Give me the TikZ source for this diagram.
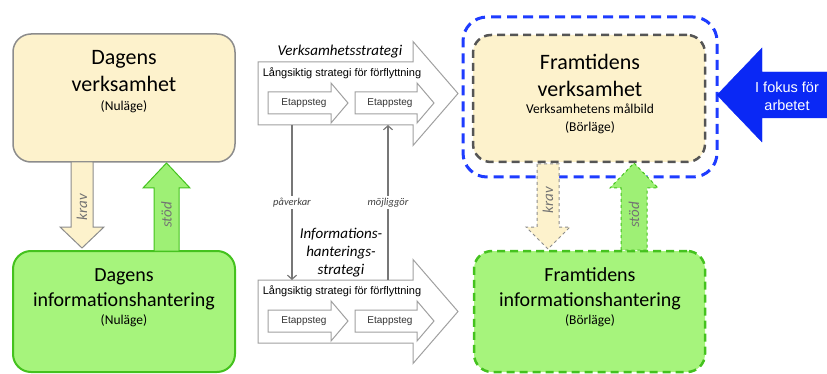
\documentclass[tikz,border=0pt]{standalone}
\usepackage{fontspec}
\setmainfont{Carlito}
\newfontfamily\arialfont{Liberation Sans}
\usetikzlibrary{arrows.meta}

\definecolor{paleyellow}{HTML}{FDF2CC}
\definecolor{boxgray}{HTML}{8C8C8C}
\definecolor{dashgray}{HTML}{555555}
\definecolor{boxgreen}{HTML}{A6F47C}
\definecolor{linegreen}{HTML}{44C21E}
\definecolor{stodgreen}{HTML}{9EF075}
\definecolor{focusblue}{HTML}{1E3CFF}
\definecolor{arrowblue}{HTML}{0A28F5}
\definecolor{stratgray}{HTML}{A0A0A0}
\definecolor{conngray}{HTML}{777777}

\newcommand{\hblock}[7]{\draw[#1] (#2,#5) -- (#3,#5) -- (#3,#5-#7) -- (#4,{(#5+#6)/2}) -- (#3,#6+#7) -- (#3,#6) -- (#2,#6) -- cycle;}
\newcommand{\vblock}[7]{\draw[#1] (#2,#4) -- (#2,#5) -- (#2-#7,#5) -- ({(#2+#3)/2},#6) -- (#3+#7,#5) -- (#3,#5) -- (#3,#4) -- cycle;}

\begin{document}
\begin{tikzpicture}[
    x=1pt, y=-1pt,
    curbox/.style={draw=boxgray, line width=1.5pt, fill=paleyellow, rounded corners=18pt, minimum width=222pt, minimum height=128pt},
    curinfo/.style={draw=linegreen, line width=2pt, fill=boxgreen, rounded corners=18pt, minimum width=222pt, minimum height=121pt},
    futbox/.style={draw=dashgray, line width=2.5pt, dash pattern=on 8pt off 5pt, fill=paleyellow, rounded corners=18pt, minimum width=232pt, minimum height=127pt},
    futinfo/.style={draw=linegreen, line width=2.5pt, dash pattern=on 8pt off 5pt, fill=boxgreen, rounded corners=18pt, minimum width=231pt, minimum height=121pt},
    focus/.style={draw=focusblue, line width=3pt, dash pattern=on 10pt off 6pt, rounded corners=24pt, minimum width=254pt, minimum height=160pt},
    bigtitle/.style={align=center, font=\fontsize{22}{27}\selectfont},
    infotitle/.style={align=center, font=\fontsize{20}{25}\selectfont},
    subtitle/.style={align=center, font=\fontsize{13.5}{18}\selectfont},
    stratarrow/.style={draw=stratgray, line width=1pt, fill=white},
    steparrow/.style={draw=stratgray, line width=1pt, fill=white},
    stratname/.style={align=center, font=\itshape\fontsize{15}{18}\selectfont},
    longtext/.style={font=\arialfont\fontsize{11}{13}\selectfont},
    steptext/.style={font=\arialfont\fontsize{10}{12}\selectfont, text=black!80},
    kravarrow/.style={draw=boxgray, line width=1pt, fill=paleyellow},
    stodarrow/.style={draw=linegreen, line width=1pt, fill=stodgreen},
    arrowtext/.style={font=\itshape\fontsize{15}{18}\selectfont, text=black!55, rotate=90},
    conn/.style={draw=conngray, line width=1.2pt, -{Straight Barb[length=4pt,width=9pt]}},
    connlabel/.style={fill=white, inner sep=2pt, font=\itshape\fontsize{10.5}{12}\selectfont, text=black!75},
]
\useasboundingbox (0,0) rectangle (827,374);

% nulage
\node[curbox] (dv) at (124,98) {};
\node[bigtitle] (dvtitle) at (124,71.5) {Dagens\\verksamhet};
\node[subtitle] (dvsub) at (124,107) {(Nuläge)};

\node[curinfo] (di) at (124,311.5) {};
\node[infotitle] (dititle) at (124,289.5) {Dagens\\informationshantering};
\node[subtitle] (disub) at (124,321) {(Nuläge)};

\vblock{kravarrow}{71}{93}{162}{227}{248}{11}
\node[arrowtext] (dkrav) at (82,207) {krav};
\vblock{stodarrow}{154}{179}{251}{188}{163}{11}
\node[arrowtext] (dstod) at (166.5,215) {stöd};

% strategier
\hblock{stratarrow}{258}{413}{458}{62}{125}{20.5}
\node[stratname] (vsname) at (340,52) {Verksamhetsstrategi};
\node[longtext] (vslong) at (342,73) {Långsiktig strategi för förflyttning};
\hblock{steparrow}{268}{331}{348}{92}{114}{9}
\node[steptext] (vsstep1) at (304,103) {Etappsteg};
\hblock{steparrow}{355}{417}{434}{92}{114}{9}
\node[steptext] (vsstep2) at (390,103) {Etappsteg};

\hblock{stratarrow}{258}{413}{458}{280}{343}{20.5}
\node[stratname] (isname) at (341,253) {Informations-\\hanterings-\\strategi};
\node[longtext] (islong) at (342,291) {Långsiktig strategi för förflyttning};
\hblock{steparrow}{268}{331}{348}{310}{332}{9}
\node[steptext] (isstep1) at (304,321) {Etappsteg};
\hblock{steparrow}{355}{417}{434}{310}{332}{9}
\node[steptext] (isstep2) at (390,321) {Etappsteg};

\coordinate (vspav) at (292,125);
\coordinate (ispav) at (292,280);
\coordinate (vsmoj) at (388,125);
\coordinate (ismoj) at (388,280);
\draw[conn] (vspav) -- node[connlabel] (pav) {påverkar} (ispav);
\draw[conn] (ismoj) -- node[connlabel] (moj) {möjliggör} (vsmoj);

% borlage
\node[focus] (fokus) at (590,97) {};
\node[futbox] (fv) at (589,98.5) {};
\node[bigtitle] (fvtitle) at (590,75) {Framtidens\\verksamhet};
\node[subtitle] (fvsub) at (590,119) {Verksamhetens målbild\\(Börläge)};

\node[futinfo] (fi) at (589.5,311.5) {};
\node[infotitle] (fititle) at (590,289) {Framtidens\\informationshantering};
\node[subtitle] (fisub) at (590,321) {(Börläge)};

\vblock{kravarrow, dashed}{537}{559}{164}{227}{249}{11}
\node[arrowtext] (fkrav) at (548,200) {krav};
\vblock{stodarrow, dashed}{621}{647}{250}{188}{163}{11}
\node[arrowtext] (fstod) at (634,215) {stöd};

\hblock{draw=arrowblue, fill=arrowblue}{840}{762}{717}{72}{118}{24}
\node[align=center, text=white, font=\arialfont\fontsize{14.5}{18}\selectfont] (fokustext) at (787,96) {I fokus för\\arbetet};

\end{tikzpicture}
\end{document}
